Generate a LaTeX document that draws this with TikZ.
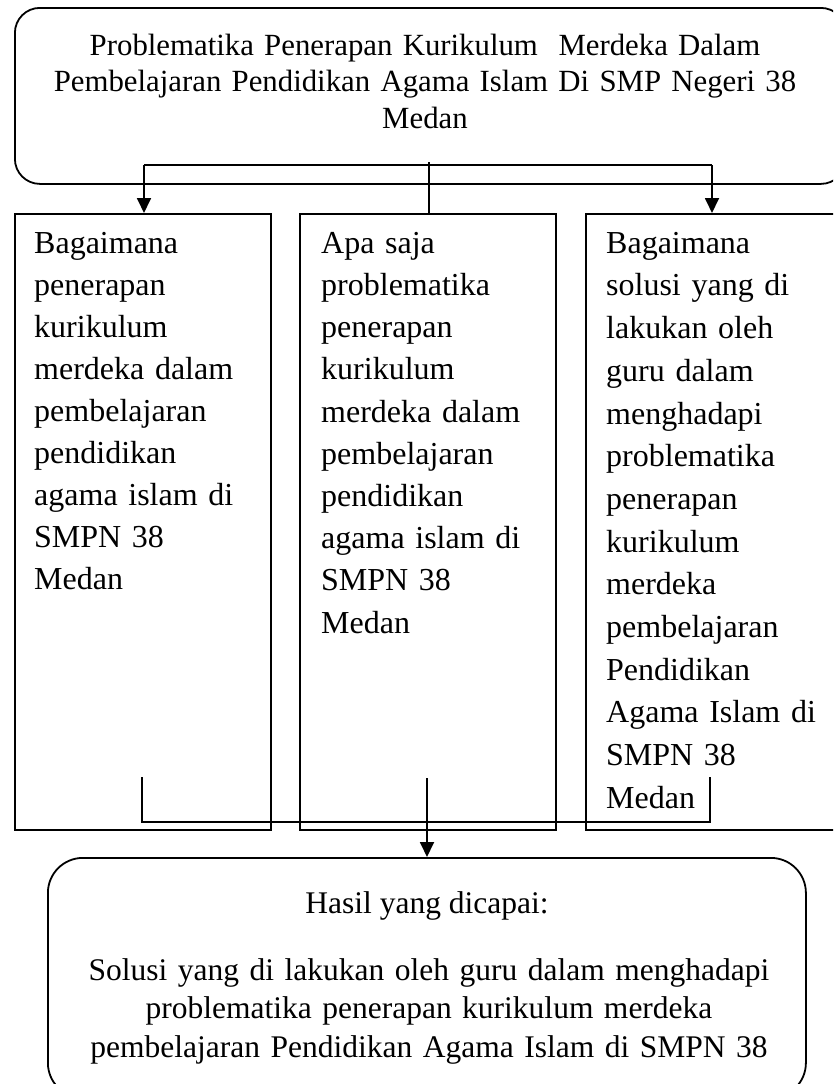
\documentclass[tikz,border=0pt]{standalone}
\usepackage{fontspec}
\setmainfont{Liberation Serif}
\usetikzlibrary{arrows.meta}
\tikzset{
  boxline/.style={draw=black, line width=1.8pt},
  rbox/.style={boxline, rectangle, anchor=north west, inner sep=0pt, minimum width=#1},
  txt/.style={inner sep=0pt, font=\fontsize{32pt}{42pt}\selectfont},
  conn/.style={draw=black, line width=1.8pt},
  arr/.style={conn, -{Triangle[width=14pt,length=15pt]}},
}
\newcommand{\firststrut}{\rule{0pt}{25pt}}
\begin{document}
\begin{tikzpicture}[x=1pt,y=-1pt]
\path[use as bounding box, clip] (0,0) rectangle (833,1084);
\fill[white] (0,0) rectangle (833,1084);
% top rounded box
\node[rbox=831pt, minimum height=176pt, rounded corners=25pt] (top) at (14,7) {};
\node[txt, anchor=north, align=center, text width=810pt,
      font=\fontsize{30.8pt}{36.7pt}\selectfont] (toptext) at (425,30)
  {\firststrut Problematika Penerapan Kurikulum~ Merdeka Dalam\\
   Pembelajaran Pendidikan Agama Islam Di SMP Negeri 38\\
   Medan};
% three boxes
\node[rbox=256pt, minimum height=616pt] (left) at (14,213) {};
\node[rbox=256pt, minimum height=616pt] (mid) at (299,213) {};
\node[rbox=265pt, minimum height=616pt] (right) at (585,213) {};
\node[txt, anchor=north west, align=left, text width=235pt] (lefttext) at (34,228)
  {\firststrut Bagaimana\\ penerapan\\ kurikulum\\ merdeka dalam\\ pembelajaran\\
   pendidikan\\ agama islam di\\ SMPN 38\\ Medan};
\node[txt, anchor=north west, align=left, text width=230pt,
      font=\fontsize{32pt}{42.2pt}\selectfont] (midtext) at (321,228)
  {\firststrut Apa saja\\ problematika\\ penerapan\\ kurikulum\\ merdeka dalam\\
   pembelajaran\\ pendidikan\\ agama islam di\\ SMPN 38\\ Medan};
\node[txt, anchor=north west, align=left, text width=230pt,
      font=\fontsize{32pt}{42.7pt}\selectfont] (righttext) at (606,228)
  {\firststrut Bagaimana\\ solusi yang di\\ lakukan oleh\\ guru dalam\\ menghadapi\\
   problematika\\ penerapan\\ kurikulum\\ merdeka\\ pembelajaran\\ Pendidikan\\
   Agama Islam di\\ SMPN 38\\ Medan};
% bottom rounded box
\node[rbox=758pt, minimum height=240pt, rounded corners=35pt] (bottom) at (47,857) {};
\node[txt, anchor=north, font=\fontsize{31.5pt}{38.5pt}\selectfont] (hasil) at (427,888) {\firststrut Hasil yang dicapai:};
\node[txt, anchor=north, align=center, text width=760pt,
      font=\fontsize{31.5pt}{38.5pt}\selectfont] (bottext) at (429,955)
  {\firststrut Solusi yang di lakukan oleh guru dalam menghadapi\\
   problematika penerapan kurikulum merdeka\\
   pembelajaran Pendidikan Agama Islam di SMPN 38};
% top connectors
\coordinate (jt) at (429,162);
\coordinate (tl) at (144,165);
\coordinate (tr) at (712,165);
\draw[conn] (jt) -- (jt |- mid.north);
\draw[conn] (tl) -- (tr);
\draw[arr] (tl) -- (tl |- left.north);
\draw[arr] (tr) -- (tr |- right.north);
% bottom connectors
\coordinate (bl) at (142,777);
\coordinate (br) at (710,777);
\coordinate (bm) at (427,778);
\draw[conn, line width=1.4pt] (bl) -- (142,822) -- (710,822) -- (br);
\draw[arr] (bm) -- (bm |- bottom.north);
\end{tikzpicture}
\end{document}
